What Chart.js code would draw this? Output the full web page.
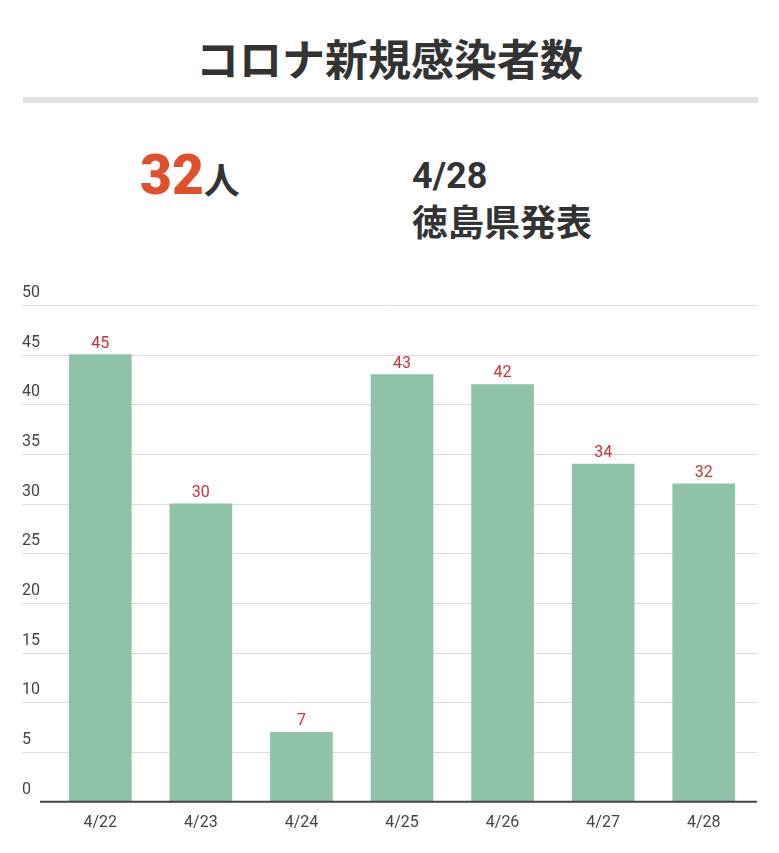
<!DOCTYPE html>
<html><head><meta charset="utf-8">
<script src="https://cdn.jsdelivr.net/npm/chart.js@4"></script>
<style>
body{margin:0;width:779px;height:853px;background:#fff;font-family:"Noto Sans CJK JP",Roboto,sans-serif;position:relative;overflow:hidden}
#t{position:absolute;top:26px;left:0;width:779px;text-align:center;font-size:43px;font-weight:bold;color:#333}
#bar{position:absolute;top:97px;left:23px;width:735px;height:6px;background:#e3e3e3}
#n{position:absolute;top:143px;left:140px;font-weight:bold;color:#333;font-size:36px}
#n b{font-family:Roboto;color:#e0502a;font-size:55px}
#d{position:absolute;top:150px;left:412px;font-weight:bold;color:#333;font-size:36px;line-height:44px}
#w{position:absolute;top:280px;left:0;width:779px;height:573px}
</style></head><body>
<div id="t">コロナ新規感染者数</div><div id="bar"></div>
<div id="n"><b>32</b>人</div>
<div id="d"><span style="font-family:Roboto">4/28</span><br>徳島県発表</div>
<div id="w"><canvas id="c"></canvas></div>
<script>
const categories=["4/22","4/23","4/24","4/25","4/26","4/27","4/28"];
const cases=[45,30,7,43,42,34,32];
const yTicks=[0,5,10,15,20,25,30,35,40,45,50];
const labelsPlugin={id:"vl",
beforeDatasetsDraw(ch){const c=ch.ctx,y=ch.scales.y;c.save();c.strokeStyle="#dcdcdc";c.lineWidth=1;
yTicks.forEach(v=>{if(v===0)return;const p=Math.round(y.getPixelForValue(v))+0.5;c.beginPath();c.moveTo(22,p);c.lineTo(757,p);c.stroke();});c.restore();},
afterDatasetsDraw(ch){const c=ch.ctx;const m=ch.getDatasetMeta(0);c.save();
const p=ch.scales.y.getPixelForValue(0);c.strokeStyle="#444";c.lineWidth=2;c.beginPath();c.moveTo(40,p);c.lineTo(757,p);c.stroke();
c.font="16px Roboto";c.fillStyle="#c8323a";c.textAlign="center";c.textBaseline="bottom";m.data.forEach((b,i)=>c.fillText(cases[i],b.x,b.y-3));c.restore();}};
new Chart(document.getElementById("c"),{type:"bar",
data:{labels:categories,datasets:[{data:cases,backgroundColor:"#8fc3a7",barThickness:62}]},
options:{responsive:true,maintainAspectRatio:false,animation:false,
layout:{padding:{top:25,right:25,left:22,bottom:8}},
plugins:{legend:{display:false},tooltip:{enabled:false}},
scales:{
x:{grid:{display:false,drawTicks:false},border:{display:false},
ticks:{color:"#444",font:{family:"Roboto",size:16},padding:12,autoSkip:false,maxRotation:0}},
y:{min:0,max:50,afterBuildTicks(s){s.ticks=yTicks.map(v=>({value:v}));},afterFit(s){s.width=28;},
grid:{display:false,drawTicks:false},border:{display:false},
ticks:{crossAlign:"far",labelOffset:-12,padding:0,color:"#444",font:{family:"Roboto",size:16}}}}},
plugins:[labelsPlugin]});
</script></body></html>
